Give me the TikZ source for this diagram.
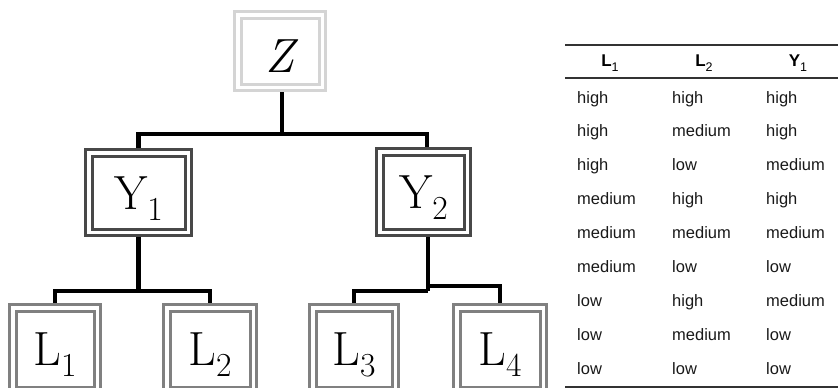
\documentclass[tikz,border=0pt]{standalone}
\usepackage{fontspec}
\newfontfamily\tabfont{Liberation Sans}
\newcommand\lowsub[1]{\raisebox{-11pt}{\fontsize{33.6}{36}\selectfont #1}}
\newcommand\headsub[1]{\raisebox{-5pt}{\fontsize{12.5}{13}\selectfont\mdseries #1}}
\tikzset{
  varbox/.style={draw=#1, double=white, double distance=3.5pt, line width=3pt,
    inner sep=0pt, outer sep=4.75pt, text height=42pt, text depth=9pt,
    font=\fontsize{48}{52}\selectfont},
  link/.style={line width=4.5pt, black},
  cell/.style={anchor=base west, inner sep=0pt, text=black!90,
    font=\tabfont\fontsize{16.5}{18}\selectfont},
  head/.style={anchor=base, inner sep=0pt, text=black,
    font=\tabfont\bfseries\fontsize{17}{18}\selectfont},
  rule/.style={line width=1.5pt, black!80}
}
\begin{document}
\begin{tikzpicture}[x=1pt,y=-1pt]
\definecolor{cz}{RGB}{212,212,212}
\definecolor{cy}{RGB}{72,72,72}
\definecolor{cl}{RGB}{128,128,128}
\useasboundingbox (0,0) rectangle (838,388);
\clip (0,0) rectangle (838,388);
% tree
\node[varbox=cz, text depth=0pt, minimum width=84.5pt, minimum height=72.5pt] (Z) at (280,51) {\itshape Z};
\node[varbox=cy, minimum width=99.5pt, minimum height=79.5pt] (Y1) at (138.5,192.5) {Y\lowsub{1}};
\node[varbox=cy, minimum width=87.5pt, minimum height=80.5pt] (Y2) at (423.5,192) {Y\lowsub{2}};
\node[varbox=cl, minimum width=84.5pt, minimum height=82.5pt] (L1) at (55,349) {L\lowsub{1}};
\node[varbox=cl, minimum width=86.5pt, minimum height=82.5pt] (L2) at (210,349) {L\lowsub{2}};
\node[varbox=cl, minimum width=82.5pt, minimum height=82.5pt] (L3) at (354,349) {L\lowsub{3}};
\node[varbox=cl, minimum width=86.5pt, minimum height=82.5pt] (L4) at (500,349) {L\lowsub{4}};
\coordinate (zj) at (282,134);
\coordinate (y1j) at (138.5,291);
\coordinate (y2j) at (428,291);
\coordinate (y2k) at (428,286);
\draw[link] ([xshift=2pt]Z.south) -- (zj);
\draw[link] (Y1.north) |- (zj) -| ([xshift=3.5pt]Y2.north);
\draw[link] (Y1.south) -- (y1j);
\draw[link] (L1.north) |- (y1j) -| (L2.north);
\draw[link] ([xshift=4.5pt]Y2.south) -- (y2j);
\draw[link] (L3.north) |- (y2j);
\draw[link] (L4.north) |- (y2k);
% table
\draw[rule] (565,45) -- (838,45);
\draw[rule] (565,78) -- (838,78);
\draw[rule] (565,387) -- (838,387);
\node[head] (hL1) at (610,66) {L\headsub{1}};
\node[head] (hL2) at (704,66) {L\headsub{2}};
\node[head] (hY1) at (798,66) {Y\headsub{1}};
\node[cell] (r1a) at (577,103) {high};
\node[cell] (r1b) at (672,103) {high};
\node[cell] (r1c) at (766,103) {high};
\node[cell] (r2a) at (577,136.9) {high};
\node[cell] (r2b) at (672,136.9) {medium};
\node[cell] (r2c) at (766,136.9) {high};
\node[cell] (r3a) at (577,170.8) {high};
\node[cell] (r3b) at (672,170.8) {low};
\node[cell] (r3c) at (766,170.8) {medium};
\node[cell] (r4a) at (577,204.7) {medium};
\node[cell] (r4b) at (672,204.7) {high};
\node[cell] (r4c) at (766,204.7) {high};
\node[cell] (r5a) at (577,238.6) {medium};
\node[cell] (r5b) at (672,238.6) {medium};
\node[cell] (r5c) at (766,238.6) {medium};
\node[cell] (r6a) at (577,272.5) {medium};
\node[cell] (r6b) at (672,272.5) {low};
\node[cell] (r6c) at (766,272.5) {low};
\node[cell] (r7a) at (577,306.4) {low};
\node[cell] (r7b) at (672,306.4) {high};
\node[cell] (r7c) at (766,306.4) {medium};
\node[cell] (r8a) at (577,340.3) {low};
\node[cell] (r8b) at (672,340.3) {medium};
\node[cell] (r8c) at (766,340.3) {low};
\node[cell] (r9a) at (577,374.2) {low};
\node[cell] (r9b) at (672,374.2) {low};
\node[cell] (r9c) at (766,374.2) {low};
\end{tikzpicture}
\end{document}
